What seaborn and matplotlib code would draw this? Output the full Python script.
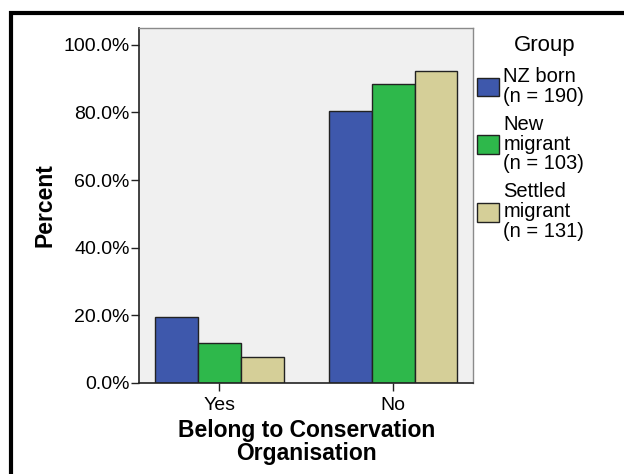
import pandas as pd
import matplotlib.pyplot as plt
import seaborn as sns
from matplotlib.patches import Rectangle
from matplotlib.ticker import FuncFormatter

# Datos
categorias = ['Yes', 'No']
grupos = ['NZ born\n(n = 190)', 'New\nmigrant\n(n = 103)', 'Settled\nmigrant\n(n = 131)']
nz_born = [19.5, 80.5]
new_migrant = [11.7, 88.3]
settled_migrant = [7.6, 92.4]
colores = ['#3e58ac', '#2eb84b', '#d5cf98']

df = pd.DataFrame({
    'Belong': categorias * 3,
    'Group': [grupos[0]] * 2 + [grupos[1]] * 2 + [grupos[2]] * 2,
    'Percent': nz_born + new_migrant + settled_migrant,
})

sns.set_style('white')
plt.rcParams['font.family'] = ['Liberation Sans', 'DejaVu Sans']
plt.rcParams['text.color'] = 'black'
plt.rcParams['axes.labelcolor'] = 'black'
plt.rcParams['xtick.color'] = 'black'
plt.rcParams['ytick.color'] = 'black'

fig = plt.figure(figsize=(6.24, 4.74), dpi=100)
ax = fig.add_axes([0.2232, 0.1926, 0.535, 0.749])
ax.set_facecolor('#f0f0f0')

sns.barplot(data=df, x='Belong', y='Percent', hue='Group', order=categorias,
            hue_order=grupos, palette=colores, saturation=1, width=0.74,
            edgecolor='#222222', linewidth=1, ax=ax)

ax.set_xlim(-0.46, 1.46)
ax.set_ylim(0, 105.1)
ax.set_yticks([0, 20, 40, 60, 80, 100])
ax.yaxis.set_major_formatter(FuncFormatter(lambda v, p: f'{v:.1f}%'))
ax.tick_params(axis='both', direction='out', length=6, width=1, color='#222222',
               labelsize=14, left=True, bottom=True)
ax.tick_params(axis='y', pad=1)
ax.tick_params(axis='x', pad=4)

for lado in ['left', 'bottom']:
    ax.spines[lado].set_color('#222222')
    ax.spines[lado].set_linewidth(1.2)
for lado in ['top', 'right']:
    ax.spines[lado].set_color('#8a8a8a')
    ax.spines[lado].set_linewidth(1)

ax.set_ylabel('Percent', fontsize=16.5, fontweight='bold', labelpad=5)
ax.set_xlabel('Belong to Conservation\nOrganisation', fontsize=16.5,
              fontweight='bold', labelpad=4, linespacing=0.98)

leg = ax.legend(title='Group', loc='upper left', bbox_to_anchor=(1.0, 0.985),
                frameon=False, fontsize=14.5, title_fontsize=16,
                handlelength=1.1, handleheight=1.05, handletextpad=0.2,
                labelspacing=0.45, borderaxespad=0, borderpad=0.2)
for t in leg.get_texts():
    t.set_linespacing(1.05)
for h in leg.legend_handles:
    h.set_edgecolor('#222222')
# El título de la leyenda va algo desplazado a la derecha, como en SPSS
leg.get_title().set_alpha(0)
fig.text(545 / 624, 1 - 46 / 474, 'Group', ha='center', va='center', fontsize=16)

# Marco exterior
fig.patches.append(Rectangle((0.0175, -0.05), 1.1, 1.0226, transform=fig.transFigure,
                             fill=False, edgecolor='black', linewidth=3, zorder=10))

fig.savefig('out.png', dpi=100)
